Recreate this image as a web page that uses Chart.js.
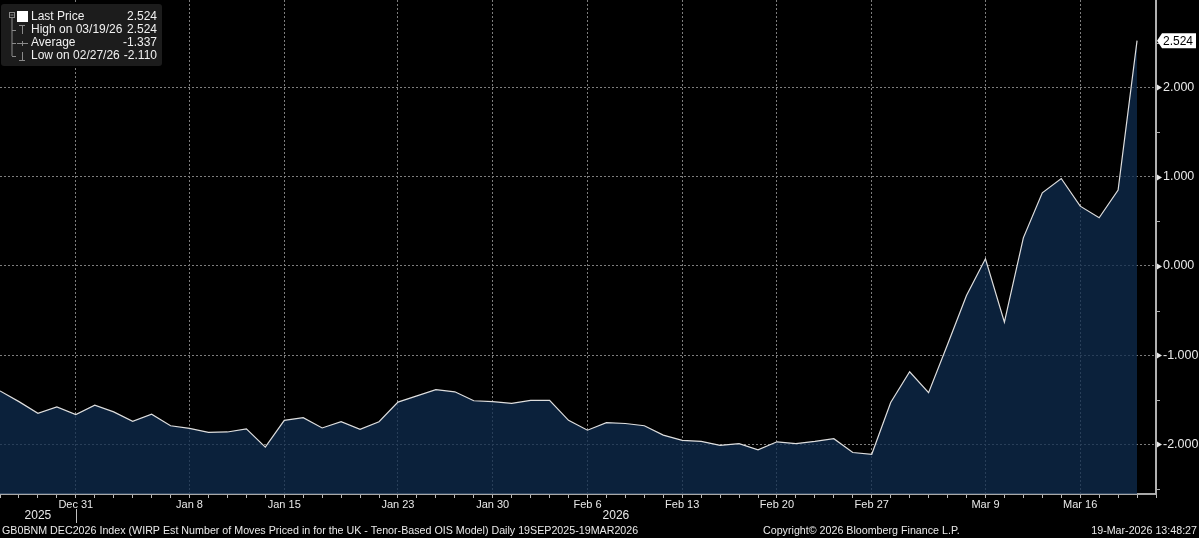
<!DOCTYPE html>
<html>
<head>
<meta charset="utf-8">
<script src="https://cdn.jsdelivr.net/npm/chart.js@4.4.1/dist/chart.umd.min.js"></script>
<style>
  html, body { margin: 0; padding: 0; background: #000; }
  #wrap { width: 1199px; height: 538px; position: relative; }
</style>
</head>
<body>
<div id="wrap"><canvas id="myChart" width="1199" height="538"></canvas></div>
<script>
// business days shown in the window
const dates = [
  'Dec 25','Dec 26','Dec 29','Dec 30','Dec 31',
  'Jan 1','Jan 2','Jan 5','Jan 6','Jan 7','Jan 8','Jan 9','Jan 12','Jan 13','Jan 14','Jan 15','Jan 16',
  'Jan 19','Jan 20','Jan 21','Jan 22','Jan 23','Jan 26','Jan 27','Jan 28','Jan 29','Jan 30',
  'Feb 2','Feb 3','Feb 4','Feb 5','Feb 6','Feb 9','Feb 10','Feb 11','Feb 12','Feb 13',
  'Feb 16','Feb 17','Feb 18','Feb 19','Feb 20','Feb 23','Feb 24','Feb 25','Feb 26','Feb 27',
  'Mar 2','Mar 3','Mar 4','Mar 5','Mar 6','Mar 9','Mar 10','Mar 11','Mar 12','Mar 13',
  'Mar 16','Mar 17','Mar 18','Mar 19'
];
const values = [
  -1.40, -1.52, -1.65, -1.58, -1.665,
  -1.56, -1.635, -1.74, -1.66, -1.79, -1.82, -1.865, -1.86, -1.825, -2.03, -1.73, -1.70,
  -1.815, -1.745, -1.83, -1.745, -1.525, -1.455, -1.385, -1.41, -1.51, -1.52,
  -1.54, -1.505, -1.505, -1.73, -1.84, -1.755, -1.765, -1.79, -1.895, -1.955,
  -1.965, -2.01, -1.99, -2.06, -1.97, -1.99, -1.965, -1.935, -2.09, -2.11,
  -1.53, -1.185, -1.42, -0.88, -0.33, 0.08, -0.63, 0.315, 0.82, 0.98,
  0.67, 0.54, 0.85, 2.524
];
const tickLabels = ['Dec 31','Jan 8','Jan 15','Jan 23','Jan 30','Feb 6','Feb 13','Feb 20','Feb 27','Mar 9','Mar 16'];
const yTicks = [-2, -1, 0, 1, 2];
const yMinor = [-2.5, -1.5, -0.5, 0.5, 1.5, 2.5];
const years = [{label: '2025', from: 0, to: 4}, {label: '2026', from: 4, to: 61}];
const legendRows = [
  ['Last Price', '2.524'],
  ['High on 03/19/26', '2.524'],
  ['Average', '-1.337'],
  ['Low on 02/27/26', '-2.110']
];
const footerLeft = 'GB0BNM DEC2026 Index (WIRP Est Number of Moves Priced in for the UK - Tenor-Based OIS Model) Daily 19SEP2025-19MAR2026';
const footerMid = 'Copyright\u00A9 2026 Bloomberg Finance L.P.';
const footerRight = '19-Mar-2026 13:48:27';

const FONT = 'Liberation Sans, Arial, sans-serif';

const extras = {
  id: 'extras',
  afterDraw(chart) {
    const ctx = chart.ctx;
    const xs = chart.scales.x, ys = chart.scales.y;
    const area = chart.chartArea;
    ctx.save();

    // y axis markers
    ctx.fillStyle = '#e8e8e8';
    yTicks.forEach(v => {
      const y = Math.round(ys.getPixelForValue(v)) + 0.5;
      ctx.beginPath();
      ctx.moveTo(area.right + 1, y - 3);
      ctx.lineTo(area.right + 6, y);
      ctx.lineTo(area.right + 1, y + 3);
      ctx.closePath();
      ctx.fill();
    });
    ctx.strokeStyle = '#b0b0b0';
    ctx.lineWidth = 1;
    yMinor.forEach(v => {
      const y = Math.round(ys.getPixelForValue(v)) + 0.5;
      ctx.beginPath();
      ctx.moveTo(area.right, y);
      ctx.lineTo(area.right + 4, y);
      ctx.stroke();
    });

    // last price tag
    const last = values[values.length - 1];
    const ly = ys.getPixelForValue(last);
    ctx.fillStyle = '#ffffff';
    ctx.beginPath();
    ctx.moveTo(area.right + 1, ly);
    ctx.lineTo(area.right + 6, ly - 7.5);
    ctx.lineTo(area.right + 40, ly - 7.5);
    ctx.lineTo(area.right + 40, ly + 7.5);
    ctx.lineTo(area.right + 6, ly + 7.5);
    ctx.closePath();
    ctx.fill();
    ctx.fillStyle = '#000';
    ctx.font = '12px ' + FONT;
    ctx.textBaseline = 'middle';
    ctx.textAlign = 'left';
    ctx.fillText(last.toFixed(3), area.right + 7, ly + 0.5);

    // years under the axis
    ctx.fillStyle = '#e8e8e8';
    ctx.font = '12px ' + FONT;
    ctx.textAlign = 'center';
    years.forEach(yr => {
      const cx = (xs.getPixelForValue(yr.from) + xs.getPixelForValue(yr.to)) / 2;
      ctx.fillText(yr.label, cx, 516);
    });
    const sep = Math.round(xs.getPixelForValue(4)) + 0.5;
    ctx.strokeStyle = '#c0c0c0';
    ctx.beginPath();
    ctx.moveTo(sep, 509);
    ctx.lineTo(sep, 523);
    ctx.stroke();

    // footer
    ctx.font = '10.7px ' + FONT;
    ctx.textAlign = 'left';
    ctx.fillText(footerLeft, 2, 531);
    ctx.fillText(footerMid, 763, 531);
    ctx.textAlign = 'right';
    ctx.fillText(footerRight, 1197, 531);

    // legend box
    ctx.fillStyle = '#1c1c1c';
    ctx.beginPath();
    ctx.roundRect(1, 4, 161, 62, 3);
    ctx.fill();
    const rowY = [17, 30, 43, 56];
    ctx.strokeStyle = '#8a8a8a';
    ctx.lineWidth = 1;
    // tree
    ctx.strokeRect(9.5, 12.5, 5, 5);
    ctx.beginPath();
    ctx.moveTo(10.5, 15); ctx.lineTo(13.5, 15);
    ctx.moveTo(12, 18); ctx.lineTo(12, rowY[3]);
    for (let i = 1; i < 4; i++) { ctx.moveTo(12, rowY[i] + 0.5); ctx.lineTo(16, rowY[i] + 0.5); }
    // high icon
    ctx.moveTo(19, 25.5); ctx.lineTo(25, 25.5); ctx.moveTo(22.5, 25.5); ctx.lineTo(22.5, 34);
    // average icon
    ctx.moveTo(17, 43.5); ctx.lineTo(28, 43.5); ctx.moveTo(22.5, 41); ctx.lineTo(22.5, 46);
    // low icon
    ctx.moveTo(22.5, 52); ctx.lineTo(22.5, 60.5); ctx.moveTo(19, 60.5); ctx.lineTo(25, 60.5);
    ctx.stroke();
    ctx.fillStyle = '#ffffff';
    ctx.fillRect(17, 11, 11, 11);
    ctx.font = '12px ' + FONT;
    ctx.fillStyle = '#f0f0f0';
    legendRows.forEach((r, i) => {
      ctx.textAlign = 'left';
      ctx.fillText(r[0], 31, rowY[i]);
      ctx.textAlign = 'right';
      ctx.fillText(r[1], 157, rowY[i]);
    });
    ctx.restore();
  }
};

const data = {
  datasets: [{
    data: values.map((v, i) => ({x: i, y: v})),
    borderColor: '#dedede',
    borderWidth: 1.2,
    // translucent so the dotted grid shows through the area, as in the original
    backgroundColor: 'rgba(15, 43, 77, 0.76)',
    fill: 'start',
    pointRadius: 0,
    tension: 0
  }]
};

const noPad = s => { s.paddingTop = 0; s.paddingBottom = 0; s.paddingLeft = 0; s.paddingRight = 0; };

const config = {
  type: 'line',
  data: data,
  options: {
    responsive: false,
    animation: false,
    devicePixelRatio: 1,
    layout: { padding: 0 },
    plugins: { legend: { display: false }, tooltip: { enabled: false } },
    scales: {
      x: {
        type: 'linear', min: 0, max: 61,
        afterBuildTicks: s => { const t = []; for (let i = 0; i <= 61; i++) t.push({value: i}); s.ticks = t; },
        afterFit: s => { s.height = 44; noPad(s); },
        ticks: {
          autoSkip: false, maxRotation: 0, color: '#e8e8e8', padding: 0,
          font: { family: FONT, size: 11 },
          callback: v => tickLabels.includes(dates[v]) ? dates[v] : ''
        },
        grid: {
          color: c => (c.tick && tickLabels.includes(dates[c.tick.value])) ? '#7d7d7d' : 'rgba(0,0,0,0)',
          lineWidth: 1, tickColor: '#b8b8b8', tickLength: 4
        },
        border: { color: '#a8a8a8', width: 2, dash: [2, 2] }
      },
      y: {
        position: 'right', min: -2.555, max: 2.98,
        afterBuildTicks: s => { s.ticks = yTicks.map(v => ({value: v})); },
        afterFit: s => { s.width = 43; noPad(s); },
        ticks: { color: '#e8e8e8', padding: 7, font: { family: FONT, size: 12.5 }, callback: v => Number(v).toFixed(3) },
        grid: { color: '#7d7d7d', lineWidth: 1, drawTicks: false },
        border: { color: '#b0b0b0', width: 2, dash: [2, 2] }
      }
    }
  },
  plugins: [extras]
};

const myChart = new Chart(document.getElementById('myChart'), config);
</script>
</body>
</html>
